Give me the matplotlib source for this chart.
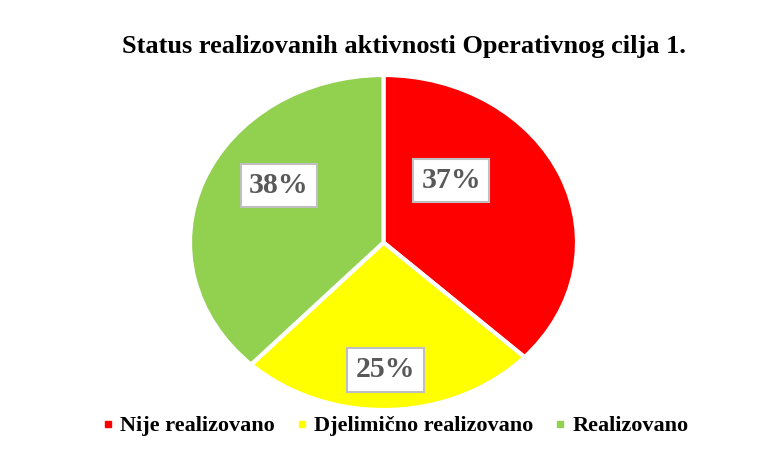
import numpy as np
from matplotlib import pyplot as plt
from matplotlib.lines import Line2D

categories = ["Nije realizovano", "Djelimično realizovano", "Realizovano"]
shares = [37, 25, 38]
colors = ["#FF0000", "#FFFF00", "#92D050"]
# label centres in axis units (pie radius = 1)
label_pos = [(0.35, 0.37), (0.01, -0.76), (-0.54, 0.34)]

plt.rcParams['font.family'] = ['Liberation Serif', 'DejaVu Serif']

fig = plt.figure(figsize=(7.59, 4.65), dpi=100)
ax = fig.add_axes([190 / 759, 55 / 465, 387 / 759, 335 / 465])

wedges, texts = ax.pie(shares, colors=colors, startangle=90, counterclock=False,
                       wedgeprops=dict(edgecolor="white", linewidth=3))
ax.set_aspect('auto')
ax.set_xlim(-1, 1)
ax.set_ylim(-1, 1)

for share, (x, y) in zip(shares, label_pos):
    ax.text(x, y, "%d%%" % share, ha="center", va="center", fontsize=21.5,
            fontweight="bold", color="#595959",
            bbox=dict(boxstyle="square,pad=0.28", facecolor="white",
                      edgecolor="#BFBFBF", linewidth=1.5))

fig.text(0.5 + 24 / 759, 1 - 46 / 465, "Status realizovanih aktivnosti Operativnog cilja 1.",
         ha="center", va="center", fontsize=19, fontweight="bold")

handles = [Line2D([], [], marker="s", linestyle="", markersize=5,
                  markerfacecolor=c, markeredgecolor=c) for c in colors]
fig.legend(handles, categories, loc="center", bbox_to_anchor=(396 / 759, 1 - 426 / 465),
           ncol=3, frameon=False, handlelength=0.4, handletextpad=0.35,
           columnspacing=1.0, prop=dict(size=16, weight="bold"))

fig.savefig("out.png", dpi=100, facecolor="white")
